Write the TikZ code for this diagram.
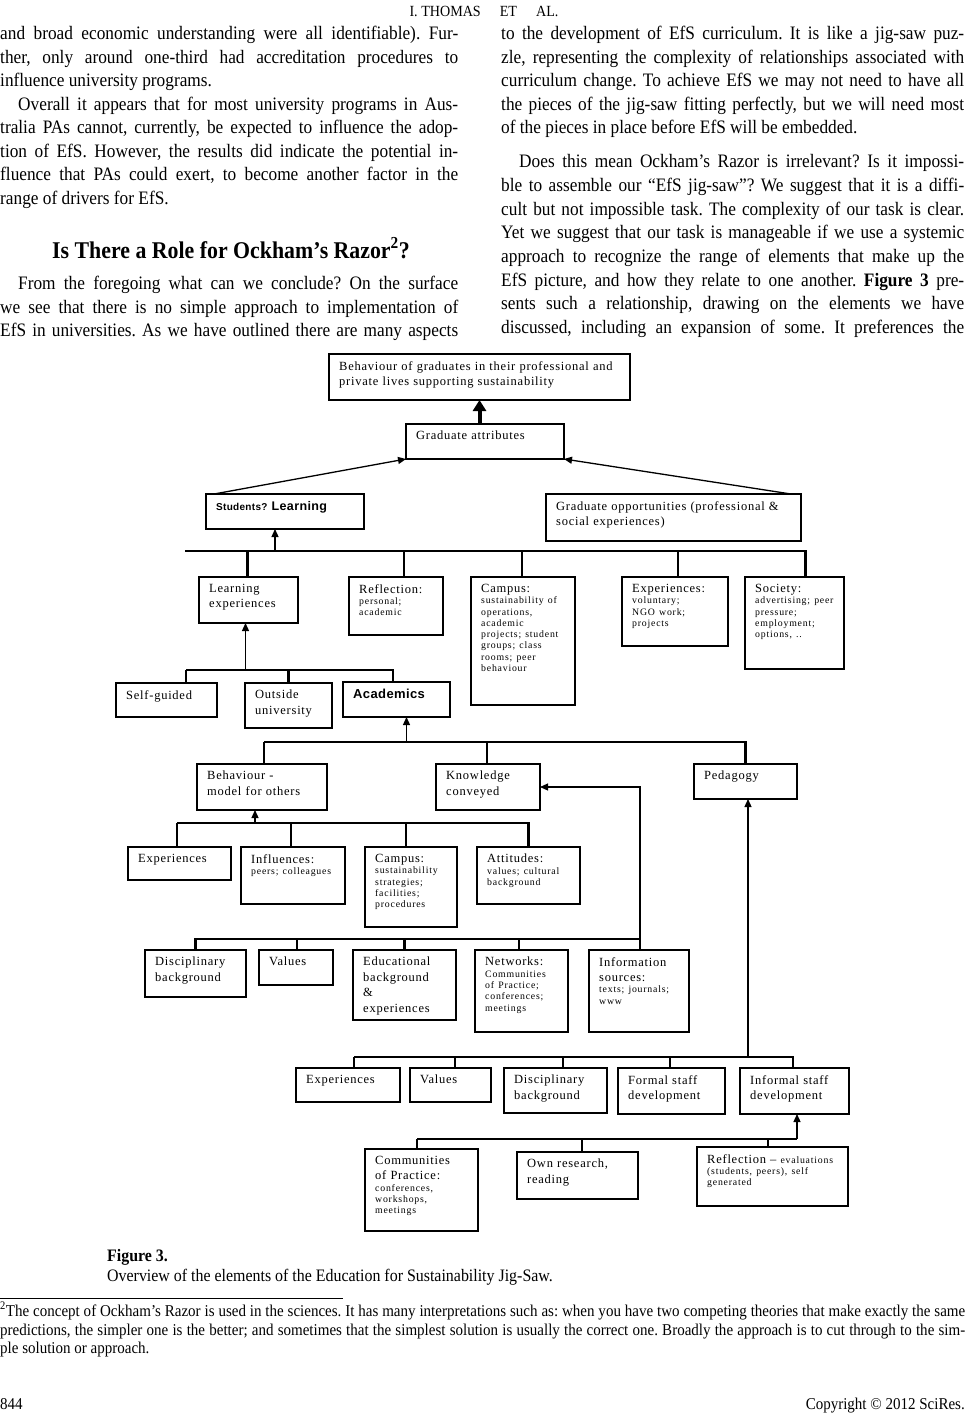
\documentclass[tikz,border=0pt]{standalone}
\usepackage{fontspec}
\setmainfont{Liberation Serif}
\newfontfamily\bodyfont[FakeStretch=0.91]{Liberation Serif}
\newfontfamily\lblfont[LetterSpace=6]{Liberation Serif}
\newfontfamily\subfont[LetterSpace=8]{Liberation Serif}
\newfontfamily\lblsans[LetterSpace=3]{Liberation Sans}
\usetikzlibrary{arrows.meta}
\frenchspacing

\newcommand{\lblsize}{\fontsize{12.5}{15.5}\selectfont}
\newcommand{\sub}{\subfont\fontsize{9.8}{11.3}\selectfont}

\tikzset{
  bodytext/.style={font=\bodyfont\fontsize{19}{23.5}\selectfont, inner sep=0pt, anchor=base west},
  elbox/.style={draw, line width=1.1pt, anchor=north west, inner sep=0pt, outer sep=0pt},
  heavy/.style={line width=2.6pt},
  medium/.style={line width=1.7pt},
  eltext/.style={anchor=north west, inner sep=0pt, align=left, font=\lblfont\lblsize},
  bus/.style={line width=2.5pt},
  thinbus/.style={line width=1.1pt},
  uparrow/.style={line width=1.3pt, -{Triangle[length=8pt,width=7pt]}},
  fatup/.style={line width=4pt, -{Triangle[length=11pt,width=13pt]}},
}

\newcommand{\jline}[5]{\node[bodytext] (#1) at (#2,#3) {\makebox[#4pt][s]{#5}};}
\newcommand{\pline}[4]{\node[bodytext] (#1) at (#2,#3) {#4};}
\newcommand{\elem}[7]{%
  \pgfmathsetmacro{\elw}{#5-#3}\pgfmathsetmacro{\elh}{#6-#4}\pgfmathsetmacro{\elt}{#5-#3-12}%
  \node[elbox,#1,minimum width=\elw pt,minimum height=\elh pt] (#2) at (#3,#4) {};
  \node[eltext,text width=\elt pt] (#2t) at ([xshift=10pt,yshift=-7pt]#2.north west) {#7};}

\begin{document}
\begin{tikzpicture}[x=1pt,y=-1pt]
\path[use as bounding box] (0,0) rectangle (968,1414);

\node[bodytext,anchor=base,font=\bodyfont\fontsize{15.5}{18}\selectfont] (hdr) at (484,16) {I. THOMAS\quad\ ET\quad\ AL.};

\jline{l1}{0}{39}{458}{and broad economic understanding were all identifiable). Fur-}
\jline{l2}{0}{63}{458}{ther, only around one-third had accreditation procedures to}
\pline{l3}{0}{86}{influence university programs.}
\jline{l4}{18}{110}{440}{Overall it appears that for most university programs in Aus-}
\jline{l5}{0}{133}{458}{tralia PAs cannot, currently, be expected to influence the adop-}
\jline{l6}{0}{157}{458}{tion of EfS. However, the results did indicate the potential in-}
\jline{l7}{0}{180}{458}{fluence that PAs could exert, to become another factor in the}
\pline{l8}{0}{204}{range of drivers for EfS.}
\node[bodytext,anchor=base,font=\bodyfont\bfseries\fontsize{24}{28}\selectfont] (head) at (231,258) {Is There a Role for Ockham’s Razor\textsuperscript{2}?};
\jline{l9}{18}{289}{440}{From the foregoing what can we conclude? On the surface}
\jline{l10}{0}{313}{458}{we see that there is no simple approach to implementation of}
\jline{l11}{0}{336}{458}{EfS in universities. As we have outlined there are many aspects}

\jline{r1}{501}{39}{463}{to the development of EfS curriculum. It is like a jig-saw puz-}
\jline{r2}{501}{63}{463}{zle, representing the complexity of relationships associated with}
\jline{r3}{501}{86}{463}{curriculum change. To achieve EfS we may not need to have all}
\jline{r4}{501}{110}{463}{the pieces of the jig-saw fitting perfectly, but we will need most}
\pline{r5}{501}{133}{of the pieces in place before EfS will be embedded.}
\jline{r6}{519}{167}{445}{Does this mean Ockham’s Razor is irrelevant? Is it impossi-}
\jline{r7}{501}{191}{463}{ble to assemble our “EfS jig-saw”? We suggest that it is a diffi-}
\jline{r8}{501}{215}{463}{cult but not impossible task. The complexity of our task is clear.}
\jline{r9}{501}{238}{463}{Yet we suggest that our task is manageable if we use a systemic}
\jline{r10}{501}{262}{463}{approach to recognize the range of elements that make up the}
\jline{r11}{501}{286}{463}{EfS picture, and how they relate to one another. \textbf{Figure 3} pre-}
\jline{r12}{501}{309}{463}{sents such a relationship, drawing on the elements we have}
\jline{r13}{501}{333}{463}{discussed, including an expansion of some. It preferences the}

\elem{medium}{top}{329}{354}{630}{400}{Behaviour of graduates in their professional and\\private lives supporting sustainability}
\elem{}{grad}{406}{424}{564}{459}{Graduate attributes}
\elem{medium}{stud}{206}{494}{364}{529}{\lblsans\bfseries{\fontsize{10}{12}\selectfont Students?} Learning}
\elem{heavy}{opp}{546}{494}{801}{541}{Graduate opportunities (professional \&\\social experiences)}

\elem{}{lexp}{199}{577}{298}{623}{Learning\\experiences}
\elem{heavy}{refl}{349}{577}{443}{635}{Reflection:\par{\sub personal;\\academic\par}}
\elem{heavy}{camp}{471}{577}{575}{705}{Campus:\par{\sub sustainability of\\operations,\\academic\\projects; student\\groups; class\\rooms; peer\\behaviour\par}}
\elem{heavy}{expe}{622}{577}{728}{646}{Experiences:\par{\sub voluntary;\\NGO work;\\projects\par}}
\elem{heavy}{soc}{745}{577}{844}{669}{Society:\par{\sub advertising; peer\\pressure;\\employment;\\options, ..\par}}

\elem{heavy}{selfg}{116}{683}{217}{717}{Self-guided}
\elem{heavy}{outs}{245}{683}{332}{728}{Outside\\university}
\elem{}{acad}{343}{682}{450}{717}{{\lblsans\bfseries\fontsize{13}{15}\selectfont Academics}}

\elem{}{behav}{197}{764}{327}{810}{Behaviour -\\model for others}
\elem{heavy}{know}{436}{764}{540}{810}{Knowledge\\conveyed}
\elem{}{peda}{694}{764}{797}{799}{Pedagogy}

\elem{medium}{expa}{128}{847}{231}{880}{Experiences}
\elem{heavy}{infl}{241}{847}{345}{904}{Influences:\par{\sub peers; colleagues\par}}
\elem{}{campb}{365}{847}{457}{927}{Campus:\par{\sub sustainability\\strategies;\\facilities;\\procedures\par}}
\elem{}{att}{477}{847}{580}{904}{Attitudes:\par{\sub values; cultural\\background\par}}

\elem{heavy}{disca}{145}{950}{246}{997}{Disciplinary\\background}
\elem{heavy}{vala}{259}{950}{333}{985}{Values}
\elem{}{edu}{353}{950}{456}{1020}{Educational\\background\\\&\\experiences}
\elem{}{netw}{475}{950}{568}{1032}{Networks:\par{\sub Communities\\of Practice;\\conferences;\\meetings\par}}
\elem{heavy}{info}{589}{950}{689}{1032}{Information\\sources:\par{\sub texts; journals;\\www\par}}

\elem{heavy}{expb}{296}{1068}{400}{1102}{Experiences}
\elem{heavy}{valb}{410}{1068}{491}{1102}{Values}
\elem{heavy}{discb}{504}{1068}{607}{1113}{Disciplinary\\background}
\elem{heavy}{formal}{618}{1068}{725}{1114}{Formal staff\\development}
\elem{heavy}{informal}{740}{1068}{849}{1114}{Informal staff\\development}

\elem{medium}{comm}{365}{1149}{478}{1231}{Communities\\of Practice:\par{\sub conferences,\\workshops,\\meetings\par}}
\elem{}{own}{517}{1152}{638}{1199}{Own research,\\reading}
\elem{heavy}{reflb}{697}{1147}{848}{1206}{Reflection – {\sub evaluations}\par{\sub (students, peers), self\\generated\par}}

\draw[fatup] (grad.north -| top.south) -- (top.south);
\draw[uparrow] ([xshift=8pt]stud.north west) -- (grad.south west);
\draw[uparrow] ([xshift=-10pt]opp.north east) -- (grad.south east);

\coordinate (b1l) at (185,551);
\coordinate (b1r) at (806,551);
\draw[bus] (b1l) -- (b1r);
\foreach \n/\dx in {lexp/-1,refl/8,camp/-1,expe/3,soc/11}
  \draw[bus] ([xshift=\dx pt]\n.north) |- (b1l);
\coordinate (sa) at ([xshift=-10pt]stud.south);
\draw[uparrow] (sa |- b1l) -- (sa);

\coordinate (b2l) at (186,670);
\coordinate (b2r) at (393,670);
\draw[bus] (b2l) -- (b2r);
\foreach \n/\dx in {selfg/19.5,outs/0,acad/-3.5}
  \draw[bus] ([xshift=\dx pt]\n.north) |- (b2l);
\coordinate (la) at ([xshift=-3pt]lexp.south);
\draw[uparrow] (la |- b2l) -- (la);

\coordinate (b3l) at (264,742);
\coordinate (b3r) at (745,742);
\draw[bus] (b3l) -- (b3r);
\foreach \n/\dx in {behav/2,know/-1,peda/0}
  \draw[bus] ([xshift=\dx pt]\n.north) |- (b3l);
\coordinate (aa) at ([xshift=10pt]acad.south);
\draw[uparrow] (aa |- b3l) -- (aa);

\coordinate (b4l) at (177,823);
\coordinate (b4r) at (528,823);
\draw[bus] (b4l) -- (b4r);
\foreach \n/\dx in {expa/-2.5,campb/-5,att/0}
  \draw[bus] ([xshift=\dx pt]\n.north) |- (b4l);
\draw[thinbus] ([xshift=-2pt]infl.north) |- (b4l);
\coordinate (ba) at ([xshift=-7pt]behav.south);
\draw[uparrow] (ba |- b4l) -- (ba);

\coordinate (b5l) at (196,939);
\coordinate (b5r) at (640,939);
\draw[bus,line width=1.8pt] (b5l) -- (b5r);
\foreach \n/\dx in {disca/0,vala/1,edu/0,netw/-2.5,info/1}
  \draw[bus] ([xshift=\dx pt]\n.north) |- (b5l);
\draw[uparrow,line width=1.1pt] (b5r) |- (know.east);

\coordinate (b6l) at (354,1057);
\coordinate (b6r) at (793,1057);
\draw[bus] (b6l) -- (b6r);
\foreach \n/\dx in {expb/6,discb/7.5,formal/-1.5,informal/-1.5}
  \draw[bus] ([xshift=\dx pt]\n.north) |- (b6l);
\draw[thinbus] ([xshift=4.5pt]valb.north) |- (b6l);
\coordinate (pa) at ([xshift=2.5pt]peda.south);
\draw[uparrow] (pa |- b6l) -- (pa);

\coordinate (b7l) at (417,1139);
\coordinate (b7r) at (797,1139);
\draw[bus] (b7l) -- (b7r);
\foreach \n/\dx in {comm/-4.5,own/4.5,reflb/-4.5}
  \draw[bus] ([xshift=\dx pt]\n.north) |- (b7l);
\coordinate (ia) at ([xshift=2.5pt]informal.south);
\draw[uparrow] (ia |- b7l) -- (ia);

\node[bodytext,font=\bodyfont\bfseries\fontsize{17.5}{20}\selectfont] (capa) at (107,1261) {Figure 3.};
\node[bodytext,font=\bodyfont\fontsize{17.5}{20}\selectfont] (capb) at (107,1281) {Overview of the elements of the Education for Sustainability Jig-Saw.};

\coordinate (fnl) at (0,1298);
\coordinate (fnr) at (343,1298);
\draw[line width=0.9pt] (fnl) -- (fnr);
\node[bodytext,font=\bodyfont\fontsize{16.5}{18}\selectfont] (fa) at (0,1316) {\makebox[965pt][s]{\textsuperscript{2}The concept of Ockham’s Razor is used in the sciences. It has many interpretations such as: when you have two competing theories that make exactly the same}};
\node[bodytext,font=\bodyfont\fontsize{16.5}{18}\selectfont] (fb) at (0,1335) {\makebox[965pt][s]{predictions, the simpler one is the better; and sometimes that the simplest solution is usually the correct one. Broadly the approach is to cut through to the sim-}};
\node[bodytext,font=\bodyfont\fontsize{16.5}{18}\selectfont] (fc) at (0,1353) {ple solution or approach.};

\node[bodytext,font=\bodyfont\fontsize{16.5}{20}\selectfont] (pg) at (0,1409) {844};
\node[bodytext,anchor=base east,font=\bodyfont\fontsize{16.5}{20}\selectfont] (copy) at (965,1409) {Copyright © 2012 SciRes.};
\end{tikzpicture}
\end{document}
